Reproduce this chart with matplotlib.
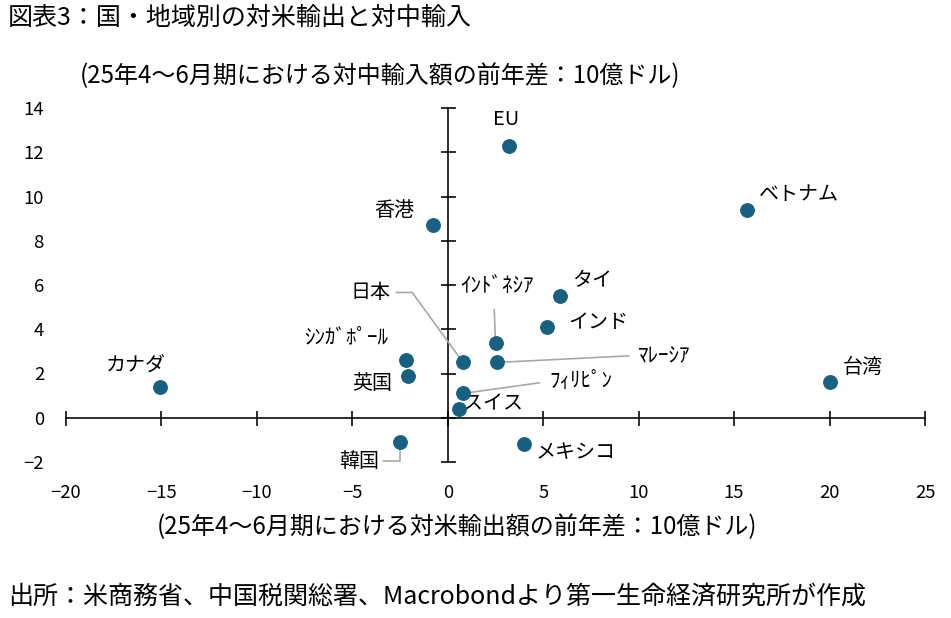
import matplotlib
matplotlib.use('Agg')
import matplotlib.pyplot as plt

plt.rcParams['font.family'] = ['Noto Sans CJK JP', 'DejaVu Sans']

# data (x: 対米輸出額の前年差, y: 対中輸入額の前年差, 10億ドル)
names = ['EU', 'ベトナム', '香港', 'タイ', 'インド', 'ｲﾝﾄﾞﾈｼｱ', '日本', 'ﾏﾚｰｼｱ',
         'ｼﾝｶﾞﾎﾟｰﾙ', '英国', 'カナダ', '台湾', 'ﾌｨﾘﾋﾟﾝ', 'スイス', '韓国', 'メキシコ']
us_exports = [3.2, 15.7, -0.8, 5.9, 5.2, 2.5, 0.8, 2.6,
              -2.2, -2.1, -15.1, 20.0, 0.8, 0.6, -2.5, 4.0]
china_imports = [12.3, 9.4, 8.7, 5.5, 4.1, 3.4, 2.5, 2.5,
                 2.6, 1.9, 1.4, 1.6, 1.1, 0.4, -1.1, -1.2]
x_ticks = [-20, -15, -10, -5, 0, 5, 10, 15, 20, 25]
y_ticks = [-2, 0, 2, 4, 6, 8, 10, 12, 14]

title = '図表3：国・地域別の対米輸出と対中輸入'
y_title = '(25年4～6月期における対中輸入額の前年差：10億ドル)'
x_title = '(25年4～6月期における対米輸出額の前年差：10億ドル)'
source = '出所：米商務省、中国税関総署、Macrobondより第一生命経済研究所が作成'

# label placement, offset in points from the dot
label_offsets = {
    'EU': (-3, 26), 'ベトナム': (51, 15), '香港': (-38, 15), 'タイ': (32, 15),
    'インド': (51, 5), 'ｲﾝﾄﾞﾈｼｱ': (2, 56), '日本': (-93, 70), 'ﾏﾚｰｼｱ': (166, 7),
    'ｼﾝｶﾞﾎﾟｰﾙ': (-60, 23), '英国': (-35, -8), 'カナダ': (-24, 21), '台湾': (33, 15),
    'ﾌｨﾘﾋﾟﾝ': (118, 12), 'スイス': (34, 5), '韓国': (-41, -19), 'メキシコ': (52, -8),
}
half_width = ['ｲﾝﾄﾞﾈｼｱ', 'ﾏﾚｰｼｱ', 'ｼﾝｶﾞﾎﾟｰﾙ', 'ﾌｨﾘﾋﾟﾝ']
# leader lines: (relpos on text, connection style, shrink at text)
leaders = {
    '日本': ((1, 0.5), 'angle,angleA=0,angleB=126,rad=0', 4),
    'ｲﾝﾄﾞﾈｼｱ': ((0.45, 0), 'arc3', 10),
    'ﾏﾚｰｼｱ': ((0, 0.5), 'arc3', 6),
    'ﾌｨﾘﾋﾟﾝ': ((0, 0.5), 'arc3', 8),
    '韓国': ((1, 0.5), 'angle,angleA=0,angleB=90,rad=0', 2),
}

W, H = 951, 618
fig = plt.figure(figsize=(W / 72, H / 72), dpi=72)
rect = [66 / W, 1 - 462 / H, (925 - 66) / W, (462 - 108) / H]
ax = fig.add_axes(rect)
ax.set_xlim(-20, 25)
ax.set_ylim(-2, 14)

# crossing axes through the origin
for side in ['top', 'right']:
    ax.spines[side].set_visible(False)
ax.spines['left'].set_position(('data', 0))
ax.spines['bottom'].set_position(('data', 0))
for side in ['left', 'bottom']:
    ax.spines[side].set_linewidth(1.6)
ax.set_xticks(x_ticks)
ax.set_yticks(y_ticks)
ax.tick_params(direction='inout', length=15, width=1.6, labelleft=False, labelbottom=False)

# tick labels along the frame edges
ax2 = fig.add_axes(rect, sharex=ax, sharey=ax)
ax2.patch.set_visible(False)
for s in ax2.spines.values():
    s.set_visible(False)
ax2.tick_params(length=0, labelsize=18.5, pad=22)

ax.scatter(us_exports, china_imports, s=190, color='#18607f', zorder=5, clip_on=False)

for name, x, y in zip(names, us_exports, china_imports):
    dx, dy = label_offsets[name]
    kw = {}
    if name in leaders:
        relpos, conn, shrink = leaders[name]
        kw['arrowprops'] = dict(arrowstyle='-', color='#a6a6a6', lw=1.6, relpos=relpos,
                                connectionstyle=conn, shrinkA=shrink, shrinkB=0)
    size = 21 if name in half_width else 20
    ax.annotate(name, (x, y), xytext=(dx, dy), textcoords='offset points',
                ha='center', va='center', fontsize=size, zorder=4, **kw)

fig.text(8 / W, 1 - 18 / H, title, fontsize=25, ha='left', va='center')
fig.text(80 / W, 1 - 76 / H, y_title, fontsize=24, ha='left', va='center')
fig.text(457 / W, 1 - 527 / H, x_title, fontsize=24, ha='center', va='center')
fig.text(8 / W, 1 - 597 / H, source, fontsize=25, ha='left', va='center')

fig.savefig('out.png', dpi=72)
